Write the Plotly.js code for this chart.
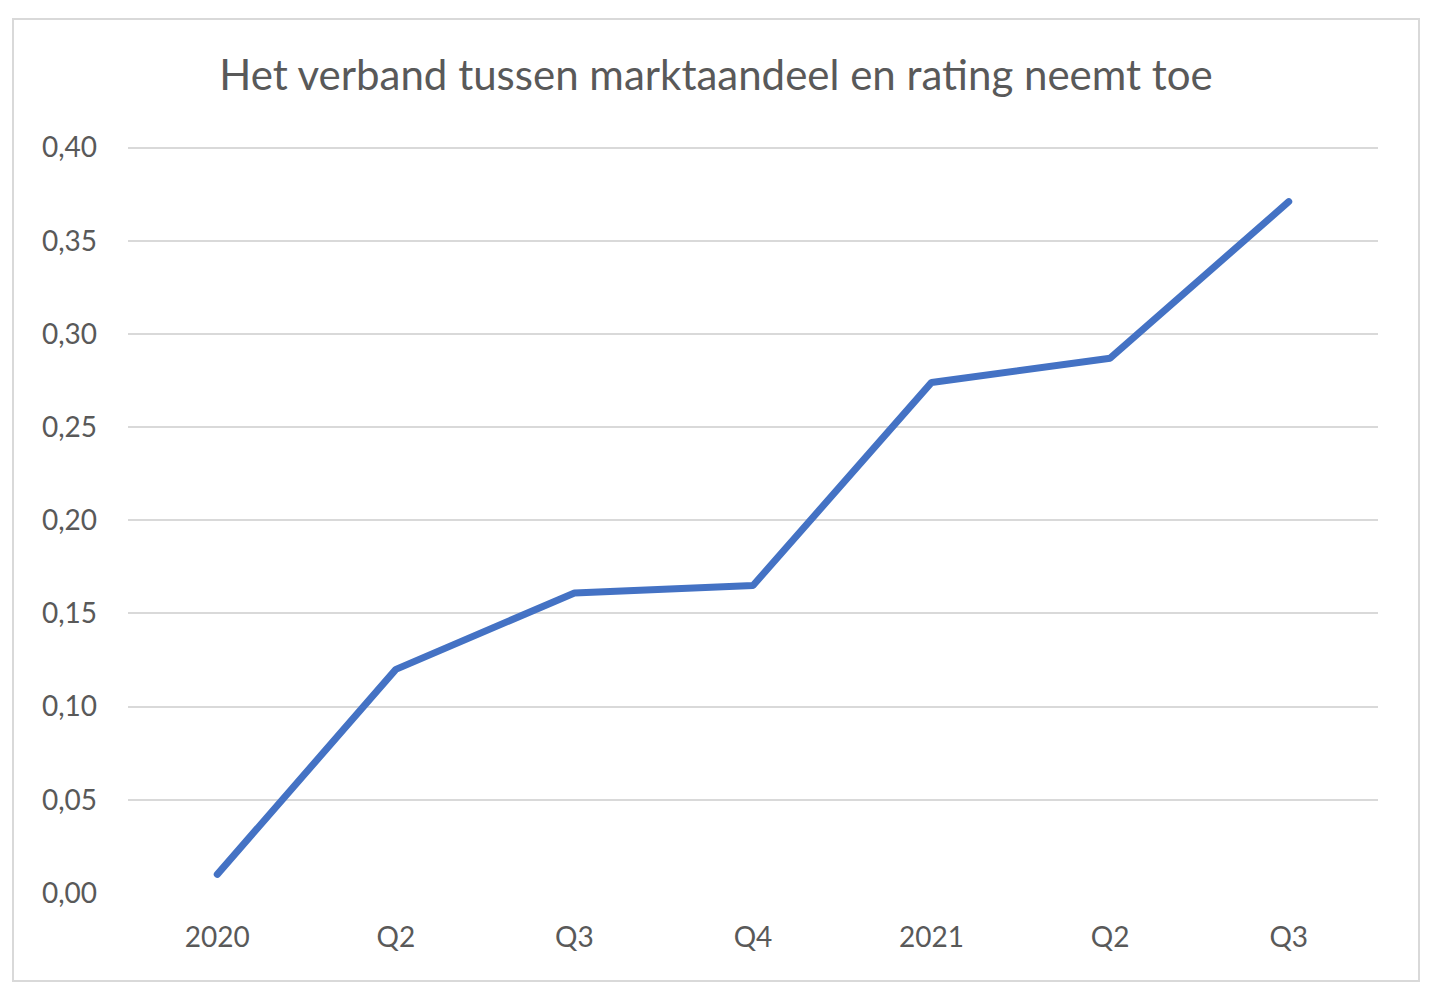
<!DOCTYPE html>
<html>
<head>
<meta charset="utf-8">
<script src="https://cdn.plot.ly/plotly-3.0.1.min.js"></script>
<style>
  html, body { margin: 0; padding: 0; background: #fff; }
  #frame { position: absolute; left: 12px; top: 18px; border: 2px solid #d9d9d9; }
  #plot1 { width: 1404px; height: 960px; }
  #plot1 .js-line { stroke-linecap: round; stroke-linejoin: round; }
</style>
</head>
<body>
<div id="frame"><div id="plot1"></div></div>
<script>
  var periods = ['2020', 'Q2', 'Q3', 'Q4', '2021', 'Q2', 'Q3'];
  var correlation = [0.01, 0.12, 0.161, 0.165, 0.274, 0.287, 0.371];
  var yTicks = [0, 0.05, 0.10, 0.15, 0.20, 0.25, 0.30, 0.35, 0.40];

  var idx = periods.map(function (p, i) { return i; });

  var line = {
    x: idx,
    y: correlation,
    type: 'scatter',
    mode: 'lines',
    line: {color: '#4472c4', width: 7},
    hoverinfo: 'y'
  };

  var layout = {
    width: 1404,
    height: 960,
    margin: {l: 114, r: 40, t: 109, b: 87},
    paper_bgcolor: '#fff',
    plot_bgcolor: '#fff',
    separators: ',.',
    font: {family: 'Lato, "Open Sans", sans-serif', color: '#595959', size: 28},
    showlegend: false,
    title: {
      text: 'Het verband tussen marktaandeel en rating neemt toe',
      font: {size: 42, color: '#595959'},
      x: 0.5, xanchor: 'center',
      y: 1 - 55 / 960, yref: 'container', yanchor: 'middle'
    },
    xaxis: {
      range: [-0.5, 6.5],
      tickmode: 'array',
      tickvals: idx,
      ticktext: periods,
      showgrid: false,
      zeroline: false,
      showline: false,
      ticks: '',
      ticklabelstandoff: 25,
      fixedrange: true
    },
    yaxis: {
      range: [0, 0.41],
      tickmode: 'array',
      tickvals: yTicks,
      tickformat: '.2f',
      showgrid: true,
      gridcolor: '#d9d9d9',
      gridwidth: 2,
      zeroline: false,
      showline: false,
      ticks: '',
      ticklabelstandoff: 30,
      fixedrange: true
    }
  };

  Plotly.newPlot('plot1', [line], layout, {displayModeBar: false, staticPlot: true});
</script>
</body>
</html>
